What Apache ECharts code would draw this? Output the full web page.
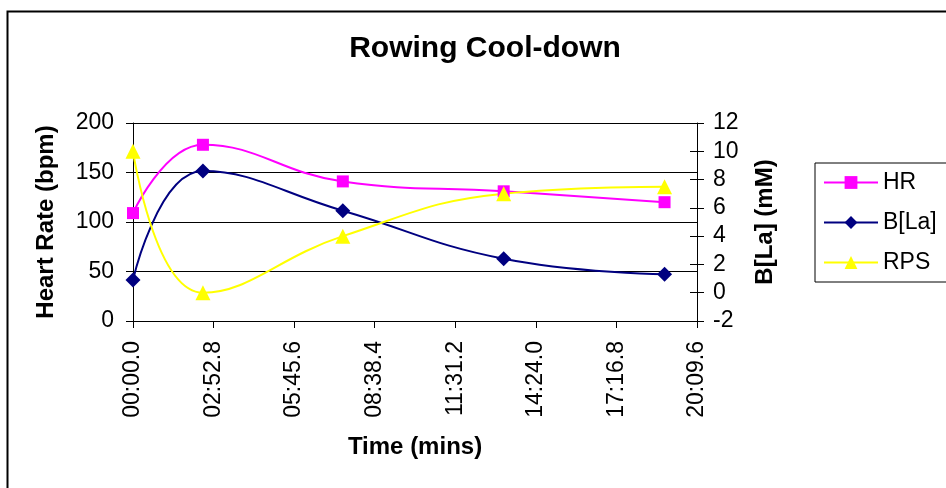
<!DOCTYPE html>
<html>
<head>
<meta charset="utf-8">
<script src="https://cdn.jsdelivr.net/npm/echarts@6/dist/echarts.min.js"></script>
<style>
html,body{margin:0;padding:0;background:#fff;}
#chart{width:946px;height:488px;}
</style>
</head>
<body>
<div id="chart"></div>
<script>
// Data
const timeSec = [0, 150, 450, 795, 1140];          // time in seconds
const hrValues = [109, 178, 141, 131, 120];         // Heart Rate (bpm)
const blaValues = [0.9, 8.6, 5.8, 2.4, 1.3];        // B[La] (mM)
const rpsValues = [10, 0, 4, 7, 7.5];               // RPS
const seriesNames = ['HR', 'B[La]', 'RPS'];
const leftTicks = [0, 50, 100, 150, 200];
const rightTicks = [-2, 0, 2, 4, 6, 8, 10, 12];
const xTickStep = 172.8;
const xMax = 1209.6;

function pairs(xs, ys) { return xs.map((x, i) => [x, ys[i]]); }
function fmtTime(v) {
  const t = Math.round(v * 10) / 10;
  const m = Math.floor(t / 60);
  const s = Math.round((t - m * 60) * 10) / 10;
  const mm = String(m).padStart(2, '0');
  const ss = s.toFixed(1).padStart(4, '0');
  return mm + ':' + ss;
}

const FONT = '"Liberation Sans", Arial, sans-serif';
const leftMin = leftTicks[0], leftMax = leftTicks[leftTicks.length - 1];
const rightMin = rightTicks[0], rightMax = rightTicks[rightTicks.length - 1];

// extra label-less axes that only draw the inner half of the crossing tick marks
function innerTickAxis(pos, min, max, step) {
  return {
    type: 'value', position: pos, min: min, max: max, interval: step,
    axisLine: {show: false},
    axisTick: {show: true, inside: true, length: 7, lineStyle: {color: '#000'}},
    axisLabel: {show: false}, splitLine: {show: false}
  };
}

const chart = echarts.init(document.getElementById('chart'), null, {renderer: 'canvas'});
chart.setOption({
  animation: false,
  backgroundColor: '#fff',
  textStyle: {fontFamily: FONT, color: '#000'},
  graphic: [{
    type: 'rect', left: 5, top: 9, silent: true,
    shape: {width: 1200, height: 800},
    style: {fill: 'none', stroke: '#000', lineWidth: 2}
  }],
  title: {
    text: 'Rowing Cool-down',
    left: 480, top: 29, textAlign: 'center',
    textStyle: {fontFamily: FONT, fontSize: 30, fontWeight: 'bold', color: '#000'}
  },
  legend: {
    orient: 'vertical', left: 815, top: 163,
    width: 131, height: 120,
    padding: [8, 40, 8, 8],
    itemGap: 17, itemWidth: 54, itemHeight: 16,
    borderColor: '#000', borderWidth: 1,
    textStyle: {fontFamily: FONT, fontSize: 23, color: '#000', padding: [0, 0, 0, 0]},
    data: seriesNames
  },
  grid: {left: 133, right: 249, top: 123, bottom: 167, containLabel: false},
  xAxis: {
    type: 'value', min: 0, max: xMax, interval: xTickStep,
    name: 'Time (mins)', nameLocation: 'middle', nameGap: 114,
    nameTextStyle: {fontFamily: FONT, fontSize: 24, fontWeight: 'bold', color: '#000'},
    axisLine: {show: true, onZero: false, lineStyle: {color: '#000', width: 1}},
    axisTick: {show: true, length: 7, lineStyle: {color: '#000'}},
    splitLine: {show: false},
    axisLabel: {rotate: 90, margin: 20, fontFamily: FONT, fontSize: 23, color: '#000', formatter: fmtTime}
  },
  yAxis: [{
    type: 'value', min: leftMin, max: leftMax, interval: 50,
    name: 'Heart Rate (bpm)', nameLocation: 'middle', nameGap: 75, nameRotate: 90,
    nameTextStyle: {fontFamily: FONT, fontSize: 24, fontWeight: 'bold', color: '#000'},
    axisLine: {show: true, lineStyle: {color: '#000', width: 1}},
    axisTick: {show: true, length: 7, lineStyle: {color: '#000'}},
    splitLine: {show: true, lineStyle: {color: '#000', width: 1}},
    axisLabel: {margin: 19, fontFamily: FONT, fontSize: 23, color: '#000'}
  }, {
    type: 'value', min: rightMin, max: rightMax, interval: 2,
    position: 'right',
    name: 'B[La] (mM)', nameLocation: 'middle', nameGap: 56, nameRotate: 90,
    nameTextStyle: {fontFamily: FONT, fontSize: 24, fontWeight: 'bold', color: '#000'},
    axisLine: {show: true, lineStyle: {color: '#000', width: 1}},
    axisTick: {show: true, length: 7, lineStyle: {color: '#000'}},
    splitLine: {show: false},
    axisLabel: {margin: 16, fontFamily: FONT, fontSize: 23, color: '#000'}
  },
  innerTickAxis('left', leftMin, leftMax, 50),
  innerTickAxis('right', rightMin, rightMax, 2)
  ],
  series: [{
    name: seriesNames[0], type: 'line', yAxisIndex: 0,
    data: pairs(timeSec, hrValues), smooth: 0.45,
    symbol: 'rect', symbolSize: 12,
    lineStyle: {color: '#FF00FF', width: 2},
    itemStyle: {color: '#FF00FF', borderWidth: 0}
  }, {
    name: seriesNames[1], type: 'line', yAxisIndex: 1,
    data: pairs(timeSec, blaValues), smooth: 0.45,
    symbol: 'diamond', symbolSize: 15,
    lineStyle: {color: '#000080', width: 2},
    itemStyle: {color: '#000080', borderWidth: 0}
  }, {
    name: seriesNames[2], type: 'line', yAxisIndex: 1,
    data: pairs(timeSec, rpsValues), smooth: 0.45,
    symbol: 'triangle', symbolSize: 15,
    lineStyle: {color: '#FFFF00', width: 2},
    itemStyle: {color: '#FFFF00', borderWidth: 0}
  }]
});
</script>
</body>
</html>
